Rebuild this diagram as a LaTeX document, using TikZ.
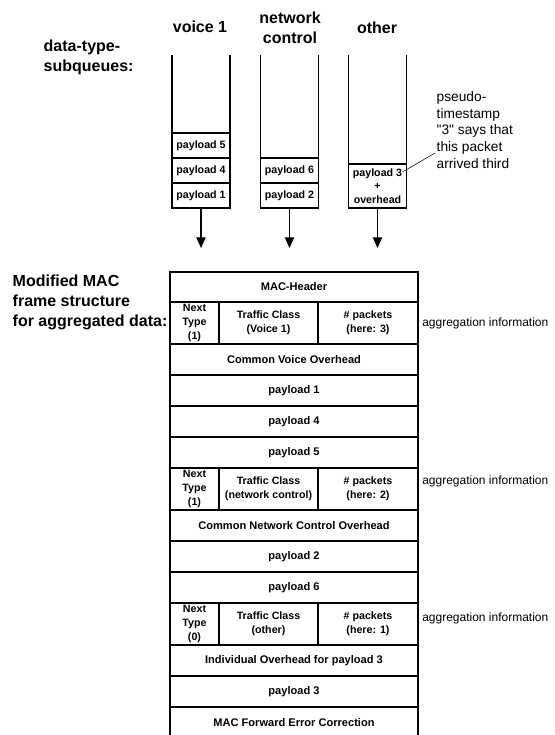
\documentclass[tikz,border=0pt]{standalone}
\usepackage{fontspec}
\setmainfont{Liberation Sans}[Ligatures=TeXOff]
\usetikzlibrary{arrows.meta,positioning}
\tikzset{
    %Define standard arrow tip
    >={Triangle[length=8pt,width=7pt]},
    %Define style for queue boxes
    qbox/.style={
           rectangle,
           draw=black, line width=0.9pt,
           minimum width=43.5pt,
           minimum height=18.75pt,
           inner sep=0pt, outer sep=0pt,
           font=\bfseries\fontsize{8}{10}\selectfont,
           align=center},
    %Define style for frame rows
    frow/.style={
           rectangle,
           draw=black, line width=0.9pt,
           minimum width=186pt,
           minimum height=23.25pt,
           inner sep=0pt, outer sep=0pt,
           font=\bfseries\fontsize{8.3}{10}\selectfont,
           align=center},
    %Define style for cells of aggregation rows
    ntcell/.style={frow, minimum width=36.75pt, minimum height=31.5pt,
           font=\bfseries\fontsize{8}{10.5}\selectfont},
    tccell/.style={ntcell, minimum width=74.25pt},
    pkcell/.style={ntcell, minimum width=75pt},
    % Define text styles
    titel/.style={font=\bfseries\fontsize{12}{15}\selectfont, align=center},
    notiz/.style={font=\fontsize{10.3}{12.5}\selectfont, align=left},
    % Define arrow style
    pildwn/.style={
           ->,
           line width=0.9pt}
}
\begin{document}
\begin{tikzpicture}[x=0.75pt,y=-0.75pt]
  \useasboundingbox (0,0) rectangle (554,735);
  %headings
  \node[titel] (tv) at (200,27) {voice 1};
  \node[titel] (tn) at (290,28) {network\\control};
  \node[titel] (to) at (377,28) {other};
  \node[titel, align=left, anchor=west] (tq) at (39,57) {data-type-\\subqueues:};
  \node[titel, align=left, anchor=west] (tf) at (8,302) {Modified MAC\\frame structure\\for aggregated data:};
  %subqueues
  \node[qbox] (v1) at (201,195.5) {payload 1};
  \node[qbox, above=0pt of v1] (v4) {payload 4};
  \node[qbox, above=0pt of v4] (v5) {payload 5};
  \node[qbox] (n2) at (289.5,195.5) {payload 2};
  \node[qbox, above=0pt of n2] (n6) {payload 6};
  \node[qbox, minimum height=33pt] (o3) at (377.5,186) {payload 3\\+\\overhead};
  \foreach \k/\h in {v5/78,n6/103,o3/109}{
    \draw[line width=0.9pt] (\k.north west) -- ++(0,-\h);
    \draw[line width=0.9pt] (\k.north east) -- ++(0,-\h);
  }
  \foreach \k in {v1,n2,o3}
    \draw[pildwn] (\k.south) -- ++(0,40);
  \node[notiz, anchor=west] (note) at (432,130) {pseudo-\\timestamp\\"3" says that\\this packet\\arrived third};
  \draw[thin] ([shift={(-4,8)}]o3.north east) -- ([shift={(3,23)}]note.west);
  %frame
  \node[frow, minimum height=22.5pt, anchor=north west] (hdr) at (170,272) {MAC-Header};
  \node[ntcell, below right=0pt and 0pt of hdr.south west] (nt1) {Next\\Type\\(1)};
  \node[tccell, right=0pt of nt1] (tc1) {Traffic Class\\(Voice 1)};
  \node[pkcell, right=0pt of tc1] (pk1) {\# packets\\(here: 3)};
  \node[frow, below right=0pt and 0pt of nt1.south west] (cvo) {Common Voice Overhead};
  \node[frow, below=0pt of cvo] (p1) {payload 1};
  \node[frow, below=0pt of p1] (p4) {payload 4};
  \node[frow, below=0pt of p4] (p5) {payload 5};
  \node[ntcell, below right=0pt and 0pt of p5.south west] (nt2) {Next\\Type\\(1)};
  \node[tccell, right=0pt of nt2] (tc2) {Traffic Class\\(network control)};
  \node[pkcell, right=0pt of tc2] (pk2) {\# packets\\(here: 2)};
  \node[frow, below right=0pt and 0pt of nt2.south west] (cnco) {Common Network Control Overhead};
  \node[frow, below=0pt of cnco] (p2) {payload 2};
  \node[frow, below=0pt of p2] (p6) {payload 6};
  \node[ntcell, below right=0pt and 0pt of p6.south west] (nt3) {Next\\Type\\(0)};
  \node[tccell, right=0pt of nt3] (tc3) {Traffic Class\\(other)};
  \node[pkcell, right=0pt of tc3] (pk3) {\# packets\\(here: 1)};
  \node[frow, below right=0pt and 0pt of nt3.south west] (ind) {Individual Overhead for payload 3};
  \node[frow, below=0pt of ind] (p3) {payload 3};
  \node[frow, below=0pt of p3] (fec) {MAC Forward Error Correction};
  %aggregation labels
  \node[notiz, font=\fontsize{9}{11}\selectfont, inner xsep=1pt, right=2pt of pk1] (ag1) {aggregation information};
  \node[notiz, font=\fontsize{9}{11}\selectfont, inner xsep=1pt, right=2pt of pk2, yshift=6pt] (ag2) {aggregation information};
  \node[notiz, font=\fontsize{9}{11}\selectfont, inner xsep=1pt, right=2pt of pk3, yshift=4.5pt] (ag3) {aggregation information};
\end{tikzpicture}
\end{document}
